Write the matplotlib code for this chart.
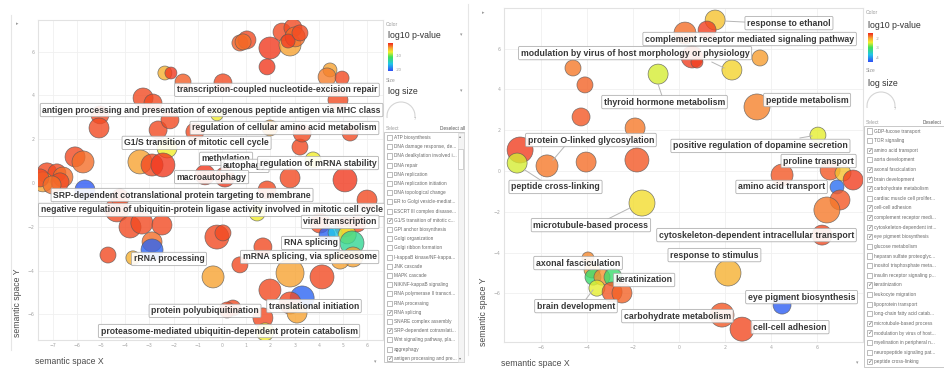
import numpy as np
import matplotlib
matplotlib.use("Agg")
import matplotlib.pyplot as plt
from matplotlib.colors import LinearSegmentedColormap, Normalize
from matplotlib.patches import Rectangle, Arc

# ---------------- data: biological process, set 1 ----------------
left_x = [-2.36, -2.11, -1.61, 0.04, 0.74, 1.03, 0.87, 1.98, 1.86, 2.48, 2.93, 2.81, 3.02, 2.73, 3.22,
          4.46, 4.34, 4.96, 4.79, -3.26, -2.85, -5.04, -5.08, -2.64, -2.15, -0.21, -2.27, -1.12,
          -3.39, -2.89, -2.44, -6.07, -5.74, -7.23, -6.82, -6.57, -7.40, -6.69, -7.52, -7.02, -5.66,
          1.98, 3.22, 3.31, 3.76, 2.81, 5.08, 5.29, 1.86, -0.70, 0.12, -4.34, -3.80, -3.31, -2.48,
          -4.71, -2.89, -2.89, -3.68, -0.21, -0.37, 0.74, 0.45, 4.05, 5.08, 5.58, 4.34, 4.67, 5.17,
          5.37, 5.41, 4.88, 5.99, 0.04, 1.69, 2.81, 4.13, 1.45, 1.98, 3.31, 2.81, 3.10, 1.69, 1.78,
          0.21, -4.21]
left_y = [5.02, 5.02, 4.61, 4.57, 6.39, 6.53, 6.44, 6.16, 5.30, 6.89, 7.08, 6.30, 6.67, 6.48, 6.85,
          5.16, 4.84, 4.79, 3.79, 3.88, 3.65, 3.11, 2.51, 2.42, 2.88, 3.11, 1.60, 2.33,
          0.96, 0.82, 0.82, 1.19, 0.96, 0.46, 0.46, 0.27, 0.05, 0.05, 0.23, -0.09, -0.32,
          2.51, 1.64, 2.28, 1.05, 0.23, 0.14, 2.28, -0.32, 0.37, 0.27, -1.23, -2.01, -1.83, -1.92,
          -3.29, -2.69, -3.06, -3.42, -2.47, -4.29, -3.74, -5.71, -1.83, -2.01, -1.83, -2.37, -2.28, -2.37,
          -2.74, -3.38, -3.52, -0.78, -2.28, -2.92, -4.11, -4.29, -1.37, -4.89, -5.25, -5.48, -5.94, -6.16, -6.80,
          -5.80, -0.68]
left_log_size = [1.33, 1.0, 1.67, 2.0, 1.67, 2.0, 1.67, 2.67, 1.67, 2.0, 2.0, 2.67, 2.33, 1.33, 1.67,
                 1.33, 2.0, 1.33, 2.33, 2.33, 2.0, 2.0, 2.33, 2.0, 2.0, 1.0, 2.33, 2.0,
                 3.0, 2.67, 3.0, 2.33, 2.67, 2.33, 2.0, 2.33, 2.33, 2.0, 2.0, 2.0, 2.33,
                 1.67, 1.67, 2.0, 1.67, 2.33, 3.0, 1.67, 2.0, 2.33, 2.33, 3.0, 2.67, 2.67, 2.33,
                 1.67, 2.33, 2.67, 1.33, 3.0, 2.67, 1.67, 1.67, 2.33, 2.33, 2.0, 1.67, 1.33, 2.0,
                 3.0, 2.33, 2.0, 2.33, 1.67, 2.0, 3.67, 3.0, 1.67, 2.67, 3.0, 2.67, 2.33, 2.33, 2.0,
                 1.67, 2.0]
left_log_p = [-5.0, -1.5, -2.5, -2.0, -2.5, -2.0, -3.0, -1.5, -1.5, -2.0, -2.0, -4.5, -3.0, -1.5, -2.0,
              -4.5, -3.5, -2.0, -2.0, -2.0, -2.0, -2.0, -2.0, -2.0, -2.0, -7.4, -7.4, -2.0,
              -4.5, -2.0, -1.5, -2.0, -3.0, -2.0, -2.0, -3.0, -4.5, -2.0, -2.0, -3.0, -20.5,
              -4.5, -2.0, -2.0, -7.4, -2.0, -1.5, -2.0, -2.0, -1.5, -1.5, -2.0, -2.0, -2.0, -2.0,
              -2.0, -3.0, -20.0, -5.0, -2.0, -4.5, -2.0, -2.0, -2.0, -2.0, -2.0, -20.0, -16.0, -7.4,
              -13.0, -4.5, -4.5, -2.0, -2.0, -2.0, -4.5, -2.0, -7.4, -2.0, -20.0, -2.0, -4.5, -2.0, -7.4,
              -2.0, -2.0]
left_terms = [
    "transcription-coupled nucleotide-excision repair",
    "antigen processing and presentation of exogenous peptide antigen via MHC class",
    "regulation of cellular amino acid metabolism",
    "G1/S transition of mitotic cell cycle",
    "methylation",
    "autophagy",
    "regulation of mRNA stability",
    "macroautophagy",
    "SRP-dependent cotranslational protein targeting to membrane",
    "negative regulation of ubiquitin-protein ligase activity involved in mitotic cell cycle",
    "viral transcription",
    "RNA splicing",
    "mRNA splicing, via spliceosome",
    "rRNA processing",
    "protein polyubiquitination",
    "translational initiation",
    "proteasome-mediated ubiquitin-dependent protein catabolism",
]
left_select_items = [
    "ATP biosynthesis", "DNA damage response, de...", "DNA dealkylation involved i...", "DNA repair",
    "DNA replication", "DNA replication initiation", "DNA topological change", "ER to Golgi vesicle-mediat...",
    "ESCRT III complex disasse...", "G1/S transition of mitotic c...", "GPI anchor biosynthesis",
    "Golgi organization", "Golgi ribbon formation", "I-kappaB kinase/NF-kappa...", "JNK cascade",
    "MAPK cascade", "NIK/NF-kappaB signaling", "RNA polymerase II transcri...", "RNA processing",
    "RNA splicing", "SNARE complex assembly", "SRP-dependent cotranslati...", "Wnt signaling pathway, pla...",
    "aggrephagy", "antigen processing and pre...",
]
left_checked = ["G1/S transition of mitotic c...", "RNA splicing", "SRP-dependent cotranslati...",
                "antigen processing and pre..."]
left_cbar_ticks = [-10, -20]

# ---------------- data: biological process, set 2 ----------------
right_x = [1.57, 1.22, 0.26, 0.57, 0.78, 2.30, 3.52, -4.61, -4.09, -4.26, -1.91, -0.91, -6.91, -7.04,
           -5.74, -4.04, -1.83, 3.39, 6.04, 4.48, 6.57, 7.13, 7.57, 6.87, 7.00, 6.43, 6.22, -1.61,
           2.13, -3.96, -3.78, -3.74, -3.35, -2.87, -3.57, -2.91, -2.48, 1.87, 2.74, 4.48]
right_y = [7.40, 6.91, 6.76, 5.59, 5.34, 4.95, 5.54, 5.05, 4.22, 2.65, 2.11, 4.75, 1.03, 0.39,
           0.25, 0.44, 0.54, 3.14, 1.76, -0.20, 0.05, -0.10, -0.44, -0.78, -1.42, -1.91, -3.14, -1.57,
           -5.00, -4.26, -4.85, -5.20, -5.20, -5.20, -5.74, -5.93, -5.98, -7.06, -7.75, -6.57]
right_log_size = [2.33, 2.0, 2.67, 2.67, 1.0, 2.33, 1.67, 1.67, 1.67, 2.0, 2.33, 2.33, 3.33, 2.33,
                  2.67, 2.33, 3.0, 3.33, 1.67, 2.67, 2.33, 1.67, 2.33, 1.33, 2.33, 3.33, 2.33, 3.33,
                  3.33, 1.0, 1.67, 1.67, 1.67, 2.0, 1.67, 2.33, 2.33, 3.0, 3.0, 2.0]
right_log_p = [-2.1, -1.5, -1.7, -1.5, -1.5, -2.2, -1.9, -1.75, -1.65, -1.6, -1.75, -2.45, -1.5, -2.45,
               -1.75, -1.7, -1.6, -1.78, -2.4, -1.6, -1.6, -2.1, -1.5, -4.2, -1.6, -1.75, -1.55, -2.25,
               -2.0, -1.8, -1.9, -3.0, -1.85, -3.0, -2.4, -1.6, -1.65, -1.6, -1.55, -4.3]
right_terms = [
    "response to ethanol",
    "complement receptor mediated signaling pathway",
    "modulation by virus of host morphology or physiology",
    "thyroid hormone metabolism",
    "peptide metabolism",
    "protein O-linked glycosylation",
    "positive regulation of dopamine secretion",
    "proline transport",
    "peptide cross-linking",
    "amino acid transport",
    "microtubule-based process",
    "cytoskeleton-dependent intracellular transport",
    "response to stimulus",
    "axonal fasciculation",
    "keratinization",
    "brain development",
    "eye pigment biosynthesis",
    "carbohydrate metabolism",
    "cell-cell adhesion",
]
right_select_items = [
    "GDP-fucose transport", "TOR signaling", "amino acid transport", "aorta development",
    "axonal fasciculation", "brain development", "carbohydrate metabolism", "cardiac muscle cell prolifer...",
    "cell-cell adhesion", "complement receptor medi...", "cytoskeleton-dependent int...",
    "eye pigment biosynthesis", "glucose metabolism", "heparan sulfate proteoglyc...",
    "inositol trisphosphate meta...", "insulin receptor signaling p...", "keratinization",
    "leukocyte migration", "lipoprotein transport", "long-chain fatty acid catab...",
    "microtubule-based process", "modulation by virus of host...", "myelination in peripheral n...",
    "neuropeptide signaling pat...", "peptide cross-linking",
]
right_checked = ["amino acid transport", "axonal fasciculation", "brain development", "carbohydrate metabolism",
                 "cell-cell adhesion", "complement receptor medi...", "cytoskeleton-dependent int...",
                 "eye pigment biosynthesis", "keratinization", "microtubule-based process",
                 "modulation by virus of host...", "peptide cross-linking"]
right_cbar_ticks = [-2, -3, -4]

# ---------------- layout ----------------
W, H, DPI = 944, 369, 100
LABEL_FONT = ["Liberation Sans", "DejaVu Sans"]

left_label_pos = [(2.27, 4.25), (-0.43, 3.33), (2.58, 2.51), (-1.05, 1.83), (0.17, 1.10), (0.95, 0.78),
                  (3.97, 0.91), (-0.43, 0.27), (-1.65, -0.55), (-0.43, -1.23), (4.88, -1.78),
                  (3.66, -2.74), (3.62, -3.38), (-2.19, -3.47), (-0.70, -5.84), (3.80, -5.62), (0.29, -6.76)]
right_label_pos = [(4.78, 7.25), (3.07, 6.47), (-1.91, 5.78), (-0.63, 3.38), (5.57, 3.48), (-3.83, 1.52),
                   (3.54, 1.23), (6.07, 0.49), (-5.37, -0.78), (4.46, -0.78), (-3.83, -2.65), (3.37, -3.14),
                   (1.54, -4.12), (-4.39, -4.51), (-1.52, -5.34), (-4.48, -6.62), (5.33, -6.18),
                   (-0.07, -7.11), (4.83, -7.65)]
right_leaders = [((2.0, 7.35), (2.87, 7.30)), ((1.43, 5.34), (1.96, 5.05)), ((-0.91, 4.26), (-0.74, 3.68)),
                 ((-4.96, 1.23), (-5.48, 0.54)), ((-6.70, 0.05), (-5.96, -0.49)),
                 ((-2.13, -1.81), (-3.09, -2.35)), ((5.26, 1.62), (5.78, 1.72)), ((-3.74, -5.83), (-4.04, -6.27))]

cmap = LinearSegmentedColormap.from_list(
    "pval", [(0.0, "#2f4ff5"), (0.25, "#22c6ea"), (0.5, "#3ee05a"), (0.68, "#f2ef2c"),
             (0.83, "#f7a232"), (1.0, "#f0281c")])

fig = plt.figure(figsize=(W / DPI, H / DPI), dpi=DPI)
fig.patch.set_facecolor("white")


def add_px_axes(x0, y0, x1, y1):
    return fig.add_axes([x0 / W, 1 - y1 / H, (x1 - x0) / W, (y1 - y0) / H])


def draw_plot(rect, xlim, ylim, xticks, yticks, xs, ys, sizes, pvals, norm, terms, pos, fs, leaders=()):
    ax = add_px_axes(*rect)
    ax.set_xlim(xlim)
    ax.set_ylim(ylim)
    ax.set_xticks(xticks)
    ax.set_yticks(yticks)
    ax.tick_params(length=0, labelsize=3.3, labelcolor="#a5a5a5", pad=2.5)
    ax.grid(True, color="#f0f0f0", lw=0.6)
    ax.set_axisbelow(True)
    for sp in ax.spines.values():
        sp.set_color("#e2e2e2")
        sp.set_linewidth(0.8)
    r_px = 3 + 3 * np.asarray(sizes)
    s = (2 * r_px * 72 / DPI) ** 2
    ax.scatter(xs, ys, s=s, c=pvals, cmap=cmap, norm=norm, alpha=0.8,
               edgecolors=(0.35, 0.35, 0.35, 0.5), linewidths=0.5, zorder=3)
    for (a, b) in leaders:
        ax.plot([a[0], b[0]], [a[1], b[1]], color="#b5b5b5", lw=0.7, zorder=4)
    for t, (lx, ly) in zip(terms, pos):
        ax.text(lx, ly, t, ha="center", va="center", fontsize=fs, fontweight="bold", color="#383838",
                family=LABEL_FONT, zorder=5,
                bbox=dict(boxstyle="round,pad=0.25,rounding_size=0.15", fc="white", ec="#a8a8a8",
                          lw=0.6, alpha=0.9))
    return ax


left_norm = Normalize(-21, -1)
right_norm = Normalize(-4.4, -1.4)

draw_plot((38, 20, 383, 340), (-7.60, 6.65), (-7.17, 7.44), np.arange(-7, 7), np.arange(-6, 7, 2),
          left_x, left_y, left_log_size, left_log_p, left_norm, left_terms, left_label_pos, 6.2)
draw_plot((504, 8, 863, 342), (-7.61, 8.0), (-8.38, 7.99), np.arange(-6, 7, 2), np.arange(-6, 7, 2),
          right_x, right_y, right_log_size, right_log_p, right_norm, right_terms, right_label_pos, 6.3,
          right_leaders)

# overlay in pixel coordinates for the control panels and axis titles
ov = fig.add_axes([0, 0, 1, 1])
ov.set_xlim(0, W)
ov.set_ylim(H, 0)
ov.axis("off")
ov.patch.set_visible(False)

TXT = ["Liberation Sans", "DejaVu Sans"]


def t(x, y, s, **kw):
    kw.setdefault("family", TXT)
    ov.text(x, y, s, **kw)


# axis titles
t(35, 362, "semantic space X", fontsize=6.2, color="#4a4a4a", va="center")
t(18, 303, "semantic space Y", fontsize=6.2, color="#4a4a4a", va="center", ha="center", rotation=90)
t(501, 363, "semantic space X", fontsize=6.2, color="#4a4a4a", va="center")
t(483, 312, "semantic space Y", fontsize=6.2, color="#4a4a4a", va="center", ha="center", rotation=90)

# panel frames and small markers
ov.plot([11, 11], [15, 350], color="#e6e6e6", lw=0.8)
ov.plot([468, 468], [4, 355], color="#e6e6e6", lw=0.8)
t(17, 24, "▸", fontsize=3.5, color="#999999", ha="center", va="center", family="DejaVu Sans")
t(483, 13, "▸", fontsize=3.5, color="#999999", ha="center", va="center", family="DejaVu Sans")
t(375, 362, "▾", fontsize=3.5, color="#999999", ha="center", va="center", family="DejaVu Sans")
t(857, 363, "▾", fontsize=3.5, color="#999999", ha="center", va="center", family="DejaVu Sans")


def draw_side(x0, ys, cb, vmin, vmax, ticks, items, checked, item_top, step, box, arc_c, deselect, scroll):
    y_color, y_pv, y_size, y_ls, y_sel = ys
    t(x0 + 1, y_color, "Color", fontsize=3.6, color="#9a9a9a", va="center")
    t(x0 + 3, y_pv, "log10 p-value", fontsize=6.3, color="#333333", va="center")
    t(x0 + 1, y_size, "Size", fontsize=3.6, color="#9a9a9a", va="center")
    t(x0 + 3, y_ls, "log size", fontsize=6.3, color="#333333", va="center")
    if scroll:
        t(x0 + 76, y_pv, "▾", fontsize=3.5, color="#999999", ha="center", va="center", family="DejaVu Sans")
        t(x0 + 76, y_ls, "▾", fontsize=3.5, color="#999999", ha="center", va="center", family="DejaVu Sans")
    # colour scale
    cx0, cy0, cx1, cy1 = cb
    cax = add_px_axes(cx0, cy0, cx1, cy1)
    cax.imshow(np.linspace(vmax, vmin, 120).reshape(-1, 1), cmap=cmap, norm=Normalize(vmin, vmax),
               aspect="auto")
    cax.axis("off")
    for v in ticks:
        yy = cy0 + (vmax - v) / (vmax - vmin) * (cy1 - cy0)
        t(cx1 + 3, yy, str(v), fontsize=3.0, color="#9a9a9a", va="center")
    # size knob
    ov.add_patch(Arc(arc_c, 28, 28, theta1=172, theta2=368, color="#d5d5d5", lw=0.8))
    t(arc_c[0] + 13, arc_c[1] + 3, "7", fontsize=2.8, color="#aaaaaa", va="center")
    # selection list
    t(x0 + 1, y_sel, "Select", fontsize=3.4, color="#9a9a9a", va="center")
    t(deselect[0], y_sel, deselect[1], fontsize=3.4, color="#555555", va="center")
    bx0, by0, bx1, by1 = box
    ov.add_patch(Rectangle((bx0, by0), bx1 - bx0, by1 - by0, fc="white", ec="#c8c8c8", lw=0.7))
    for i, item in enumerate(items):
        yy = item_top + i * step
        ov.add_patch(Rectangle((bx0 + 2.5, yy - 2.6), 5.2, 5.2, fc="white", ec="#a0a0a0", lw=0.5))
        if item in checked:
            t(bx0 + 5.1, yy, "✓", fontsize=4.2, color="#666666", ha="center", va="center",
              family="DejaVu Sans")
        t(bx0 + 10, yy, item, fontsize=3.4, color="#6a6a6a", va="center")
    if scroll:
        ov.add_patch(Rectangle((bx1 - 6.5, by0 + 0.5), 6, by1 - by0 - 1, fc="#f4f4f4", ec="#d5d5d5", lw=0.4))
        ov.add_patch(Rectangle((bx1 - 5.8, by0 + 17), 4.6, 20, fc="white", ec="#c0c0c0", lw=0.5))
        t(bx1 - 3.5, by0 + 4, "▴", fontsize=3, color="#777777", ha="center", va="center", family="DejaVu Sans")
        t(bx1 - 3.5, by1 - 4, "▾", fontsize=3, color="#777777", ha="center", va="center", family="DejaVu Sans")


draw_side(385, (24, 35, 80, 91, 128), (388, 43, 393, 71), -21, -1, left_cbar_ticks,
          left_select_items, left_checked, 137.5, 9.2, (384, 132, 464, 362), (401, 116),
          (440, "Deselect all"), True)
draw_side(865, (13, 25, 71, 83, 122), (868, 33, 873, 62), -4.4, -1.4, right_cbar_ticks,
          right_select_items, right_checked, 131, 9.62, (864, 126, 950, 367), (881, 106),
          (923, "Deselect"), False)

fig.savefig("out.png", dpi=DPI, facecolor="white")
